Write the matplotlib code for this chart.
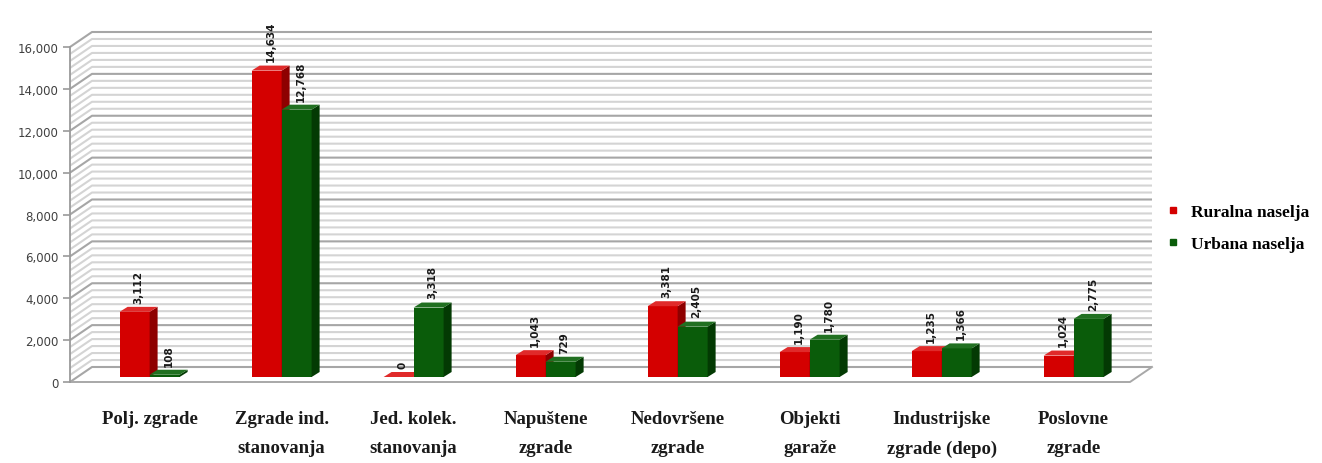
import numpy as np
import matplotlib.pyplot as plt
from matplotlib.patches import Polygon
from matplotlib.lines import Line2D

kategorije = ["Polj. zgrade", "Zgrade ind.\nstanovanja", "Jed. kolek.\nstanovanja",
              "Napuštene\nzgrade", "Nedovršene\nzgrade", "Objekti\ngaraže",
              "Industrijske\nzgrade (depo)", "Poslovne\nzgrade"]
ruralna = [3112, 14634, 0, 1043, 3381, 1190, 1235, 1024]
urbana = [108, 12768, 3318, 729, 2405, 1780, 1366, 2775]
serije = ["Ruralna naselja", "Urbana naselja"]

W, H = 1322, 464
fig = plt.figure(figsize=(W / 100, H / 100), dpi=100)
ax = fig.add_axes([70 / W, (H - 383) / H, 1060 / W, 335 / H])

xmin, xmax = -0.55, 7.48
ymax = 16000
ppx = 1060 / (xmax - xmin)      # pikseli po kategoriji
ppy = 335 / ymax                # pikseli po jedinici

# pomaci za 3D efekt (u pikselima -> jedinice podataka)
wdx, wdy = 22 / ppx, 15 / ppy   # zadnji zid
mdx, mdy = 7 / ppx, 5 / ppy     # ravan stubaca
bdx, bdy = 8 / ppx, 5 / ppy     # dubina stubaca
w = 30 / ppx

# mreza na zadnjem zidu
nivoi = np.linspace(0, ymax, 49)
for k, v in enumerate(nivoi):
    c = "#a6a6a6" if k % 6 == 0 else "#d4d4d4"
    ax.plot([xmin, xmin + wdx, xmax + wdx], [v, v + wdy, v + wdy],
            color=c, lw=1.5, clip_on=False, zorder=1, solid_capstyle="butt")
# pod
ax.plot([xmin, xmax, xmax + wdx], [0, 0, wdy], color="#a8a8a8", lw=1.4,
        clip_on=False, zorder=1)

boje = [("#d40000", "#8e0000", "#e02a2a"), ("#0a5c0a", "#033a03", "#217021")]


def stubac(lijevo, vrijednost, boja, z):
    prednja, bocna, gornja = boja
    b, t = mdy, mdy + vrijednost
    ax.bar(lijevo, vrijednost, w, bottom=b, align="edge", color=prednja,
           zorder=z, linewidth=0)
    ax.add_patch(Polygon([(lijevo + w, b), (lijevo + w + bdx, b + bdy),
                          (lijevo + w + bdx, t + bdy), (lijevo + w, t)],
                         closed=True, color=bocna, lw=0, zorder=z))
    ax.add_patch(Polygon([(lijevo, t), (lijevo + bdx, t + bdy),
                          (lijevo + w + bdx, t + bdy), (lijevo + w, t)],
                         closed=True, color=gornja, lw=0, zorder=z))
    ax.annotate(f"{vrijednost:,}", (lijevo + w / 2 + bdx / 2, t + bdy),
                xytext=(0, 3), textcoords="offset points", rotation=90,
                ha="center", va="bottom", fontsize=7.5, fontweight="bold",
                color="#1a1a1a", annotation_clip=False, zorder=10)


x = np.arange(len(kategorije))
for i in x:
    stubac(i + mdx - w, ruralna[i], boje[0], 3 + 2 * i)
    stubac(i + mdx, urbana[i], boje[1], 4 + 2 * i)

ax.set_xlim(xmin, xmax)
ax.set_ylim(0, ymax)
ax.patch.set_visible(False)
for s in ["top", "right", "bottom"]:
    ax.spines[s].set_visible(False)
ax.spines["left"].set_color("#9a9a9a")
ax.spines["left"].set_linewidth(1.3)

ax.set_yticks(range(0, ymax + 1, 2000))
ax.set_yticklabels([f"{v:,}" for v in range(0, ymax + 1, 2000)])
ax.tick_params(axis="y", length=5, width=1.2, color="#9a9a9a", labelsize=8.5,
               labelcolor="#404040", pad=3)

ax.set_xticks(x + mdx)
ax.set_xticklabels(kategorije, fontfamily="Liberation Serif", fontweight="bold",
                   fontsize=13.5, linespacing=1.95, va="top")
ax.tick_params(axis="x", length=0, pad=20, labelcolor="#1a1a1a")

rucke = [Line2D([], [], marker="s", ls="", color=boje[0][0], markersize=5),
         Line2D([], [], marker="s", ls="", color=boje[1][0], markersize=5)]
fig.legend(rucke, serije, loc="center left", bbox_to_anchor=(1149 / W, 1 - 229 / H),
           frameon=False, prop={"family": "Liberation Serif", "weight": "bold", "size": 12.5},
           handletextpad=0.5, labelspacing=0.95, handlelength=1.0)

fig.savefig("out.png", dpi=100)
